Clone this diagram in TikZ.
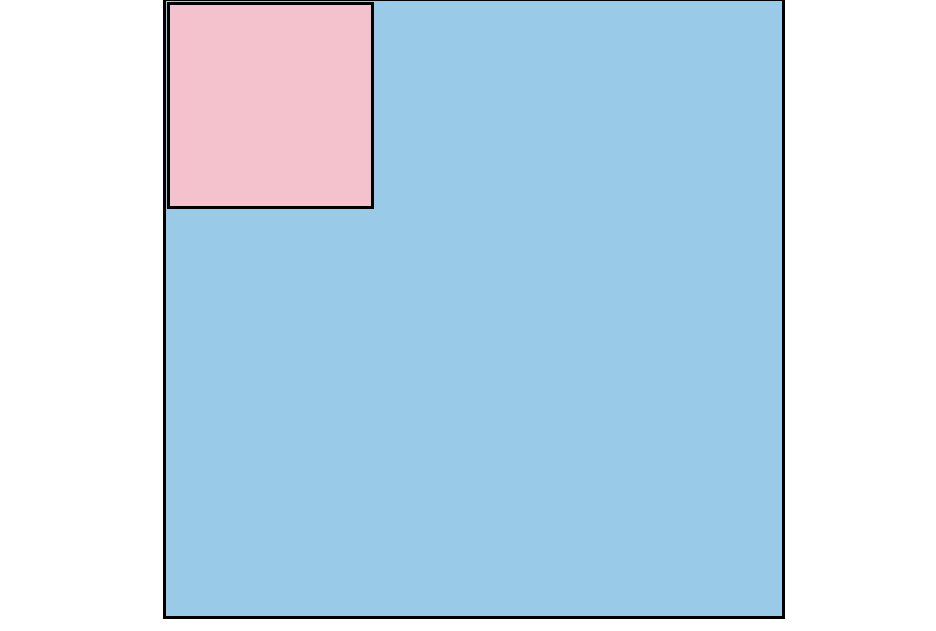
\documentclass[tikz,border=0pt]{standalone}
\usepackage{xcolor}
\usepackage{tikz}
\usetikzlibrary{positioning}
\definecolor{skyfill}{RGB}{153,203,232}
\definecolor{pinkfill}{RGB}{243,194,204}
\begin{document}
\begin{tikzpicture}[x=0.02cm, y=-0.02cm]
\useasboundingbox (0,0) rectangle (936,630);
\tikzset{square/.style={rectangle, draw=black, line width=0.06cm, inner sep=0pt, outer sep=0pt}}
\node[square, fill=skyfill, minimum size=12.38cm] (outer) at (474,308.5) {};
\node[square, fill=pinkfill, minimum size=4.08cm] (inner) at (270.25,105.5) {};
\end{tikzpicture}
\end{document}
